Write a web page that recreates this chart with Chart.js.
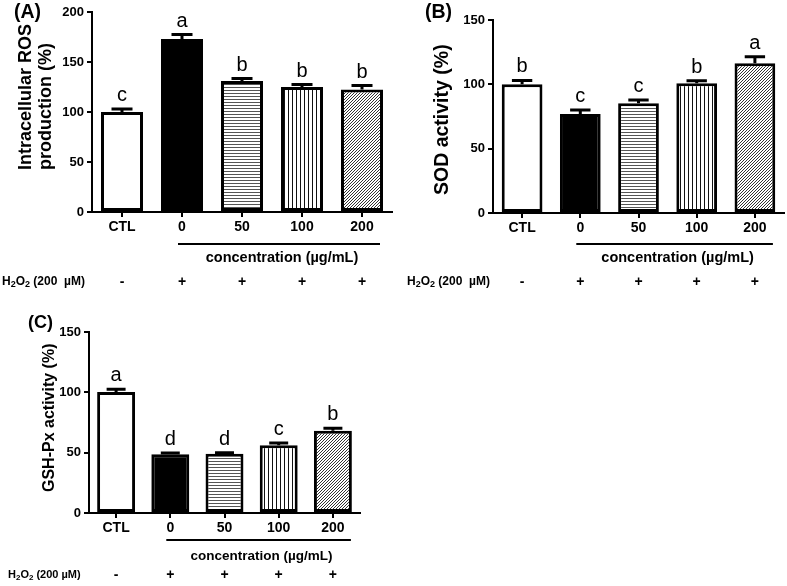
<!DOCTYPE html>
<html>
<head>
<meta charset="utf-8">
<script src="https://cdn.jsdelivr.net/npm/chart.js@4.4.1/dist/chart.umd.min.js"></script>
<style>
  html, body { margin: 0; padding: 0; background: #fff; }
  #wrap { position: relative; width: 787px; height: 586px; overflow: hidden; }
  canvas { position: absolute; }
</style>
</head>
<body>
<div id="wrap">
  <canvas id="chartA" width="400" height="295" style="left:0px;top:0px;"></canvas>
  <canvas id="chartB" width="387" height="295" style="left:400px;top:0px;"></canvas>
  <canvas id="chartC" width="400" height="296" style="left:0px;top:290px;"></canvas>
</div>
<script>
// groups on the x axis, same for the three panels
const groups = ["CTL", "0", "50", "100", "200"];
const h2o2Signs = ["-", "+", "+", "+", "+"];
const fillKinds = ["white", "black", "hlines", "vlines", "diag"];

// (A) intracellular ROS production (%)
const rosValues = [100, 173, 131, 125, 122.5];
const rosErrors = [3, 4.5, 2.5, 2.5, 4];
const rosLetters = ["c", "a", "b", "b", "b"];

// (B) SOD activity (%)
const sodValues = [100, 77, 85.3, 100.8, 116.4];
const sodErrors = [3, 3, 2.5, 2, 5];
const sodLetters = ["b", "c", "c", "b", "a"];

// (C) GSH-Px activity (%)
const gpxValues = [100.2, 48.6, 49.2, 56.1, 68.2];
const gpxErrors = [2.3, 1.2, 0.8, 2, 2];
const gpxLetters = ["a", "d", "d", "c", "b"];

const FONT = "'Liberation Sans', Arial, sans-serif";

// hatch fills like the GraphPad bars
function makeFill(kind) {
  if (kind === "white") return "#ffffff";
  if (kind === "black") return "#000000";
  const c = document.createElement("canvas");
  const g = c.getContext("2d");
  if (kind === "hlines") {
    c.width = 4; c.height = 3;
    g.fillStyle = "#fff"; g.fillRect(0, 0, 4, 3);
    g.fillStyle = "#555"; g.fillRect(0, 0, 4, 1);
  } else if (kind === "vlines") {
    c.width = 4; c.height = 4;
    g.fillStyle = "#fff"; g.fillRect(0, 0, 4, 4);
    g.fillStyle = "#111"; g.fillRect(0, 0, 1, 4);
  } else {
    c.width = 3; c.height = 3;
    g.fillStyle = "#fff"; g.fillRect(0, 0, 3, 3);
    g.fillStyle = "#333";
    for (let i = 0; i < 3; i++) g.fillRect(i, 2 - i, 1, 1);
  }
  return g.createPattern(c, "repeat");
}

function drawH2O2(ctx, x, y, size, gap) {
  const big = `bold ${size}px ${FONT}`;
  const small = `bold ${Math.round(size * 0.72)}px ${FONT}`;
  const runs = [["H", big, 0], ["2", small, 3], ["O", big, 0], ["2", small, 3], [" (200" + gap + "\u00b5M)", big, 0]];
  ctx.textAlign = "left";
  ctx.textBaseline = "middle";
  let cx = x;
  runs.forEach(([t, f, dy]) => {
    ctx.font = f;
    ctx.fillText(t, cx, y + dy);
    cx += ctx.measureText(t).width;
  });
}

// error bars, letters, titles and the bottom annotation rows
const extrasPlugin = {
  id: "extras",
  afterDatasetsDraw(chart, args, o) {
    const { ctx } = chart;
    const y = chart.scales.y;
    const bars = chart.getDatasetMeta(0).data;
    ctx.save();
    ctx.strokeStyle = "#000";
    ctx.fillStyle = "#000";
    ctx.lineWidth = 3;
    bars.forEach((bar, i) => {
      const top = y.getPixelForValue(o.values[i] + o.errors[i]);
      ctx.beginPath();
      ctx.moveTo(bar.x, bar.y);
      ctx.lineTo(bar.x, top);
      ctx.moveTo(bar.x - bar.width / 4, top);
      ctx.lineTo(bar.x + bar.width / 4, top);
      ctx.stroke();
      ctx.font = `20px ${FONT}`;
      ctx.textAlign = "center";
      ctx.textBaseline = "alphabetic";
      ctx.fillText(o.letters[i], bar.x, top - 8);
    });
    ctx.restore();
  },
  afterDraw(chart, args, o) {
    const { ctx, chartArea } = chart;
    const x = chart.scales.x;
    const b = chartArea.bottom;
    ctx.save();
    ctx.fillStyle = "#000";
    ctx.strokeStyle = "#000";

    // panel letter
    ctx.font = `bold ${o.panelSize}px ${FONT}`;
    ctx.textAlign = "left";
    ctx.textBaseline = "middle";
    ctx.fillText(o.panel, o.panelX, o.panelY);

    // y title, rotated, lines start from the same bottom point
    ctx.font = `bold ${o.titleSize}px ${FONT}`;
    o.title.forEach((line, i) => {
      ctx.save();
      ctx.translate(o.titleX[i], o.titleBottom);
      ctx.rotate(-Math.PI / 2);
      ctx.textAlign = "left";
      ctx.textBaseline = "middle";
      ctx.fillText(line, 0, 0);
      ctx.restore();
    });

    // concentration bracket line
    const x1 = x.getPixelForValue(1) - 4;
    const x2 = x.getPixelForValue(4) + 18;
    ctx.lineWidth = 2;
    ctx.beginPath();
    ctx.moveTo(x1, b + o.lineDy);
    ctx.lineTo(x2, b + o.lineDy);
    ctx.stroke();
    ctx.font = `bold ${o.concSize}px ${FONT}`;
    ctx.textAlign = "center";
    ctx.textBaseline = "middle";
    ctx.fillText("concentration (\u00b5g/mL)", (x1 + x2) / 2 + 3, b + o.textDy);

    // H2O2 row
    drawH2O2(ctx, o.h2Left, b + o.rowDy, o.h2Size, o.h2Gap);
    ctx.font = `bold 14px ${FONT}`;
    ctx.textAlign = "center";
    ctx.textBaseline = "middle";
    h2o2Signs.forEach((s, i) => ctx.fillText(s, x.getPixelForValue(i), b + o.rowDy));
    ctx.restore();
  }
};

function axisStyle() {
  return {
    grid: { display: true, drawOnChartArea: false, drawTicks: true, tickLength: 5, color: "#000", lineWidth: 2, offset: false },
    border: { display: true, color: "#000", width: 2 }
  };
}

function makePanel(id, values, errors, letters, yMax, yWidth, xHeight, padding, extras) {
  const fills = fillKinds.map(makeFill);
  return new Chart(document.getElementById(id), {
    type: "bar",
    data: {
      labels: groups,
      datasets: [{
        data: values,
        backgroundColor: fills,
        borderColor: "#000",
        borderWidth: 3,
        borderSkipped: false,
        barPercentage: 0.7,
        categoryPercentage: 1
      }]
    },
    options: {
      responsive: false,
      devicePixelRatio: 1,
      animation: false,
      events: [],
      layout: { padding },
      plugins: {
        legend: { display: false },
        tooltip: { enabled: false },
        extras: Object.assign({ values, errors, letters }, extras)
      },
      scales: {
        x: Object.assign(axisStyle(), {
          afterFit: s => { s.height = xHeight; },
          ticks: { color: "#000", font: { family: FONT, size: 14, weight: "bold" }, padding: 2, maxRotation: 0, autoSkip: false }
        }),
        y: Object.assign(axisStyle(), {
          min: 0,
          max: yMax,
          afterFit: s => { s.width = yWidth; },
          ticks: { stepSize: 50, color: "#000", font: { family: FONT, size: 13, weight: "bold" }, padding: 3 }
        })
      }
    },
    plugins: [extrasPlugin]
  });
}

makePanel("chartA", rosValues, rosErrors, rosLetters, 200, 92, 20,
  { top: 12, right: 8, bottom: 63, left: 0 },
  { panel: "(A)", panelX: 14, panelY: 13, panelSize: 19.5, title: ["Intracellular ROS", "production (%)"], titleX: [26, 46], titleBottom: 170, titleSize: 18,
    lineDy: 32, textDy: 46, rowDy: 70, concSize: 14.5, h2Left: 2, h2Size: 12, h2Gap: "  " });

makePanel("chartB", sodValues, sodErrors, sodLetters, 150, 93, 20,
  { top: 20, right: 3, bottom: 62, left: 0 },
  { panel: "(B)", panelX: 25, panelY: 13, panelSize: 19.5, title: ["SOD activity (%)"], titleX: [43], titleBottom: 195, titleSize: 19.5,
    lineDy: 31, textDy: 45, rowDy: 69, concSize: 14.5, h2Left: 7, h2Size: 12, h2Gap: "  " });

makePanel("chartC", gpxValues, gpxErrors, gpxLetters, 150, 89, 20,
  { top: 42, right: 40, bottom: 53, left: 0 },
  { panel: "(C)", panelX: 28, panelY: 33, panelSize: 18, title: ["GSH-Px activity (%)"], titleX: [50], titleBottom: 202, titleSize: 16,
    lineDy: 27, textDy: 43, rowDy: 62, concSize: 13.5, h2Left: 8, h2Size: 11, h2Gap: " " });
</script>
</body>
</html>
